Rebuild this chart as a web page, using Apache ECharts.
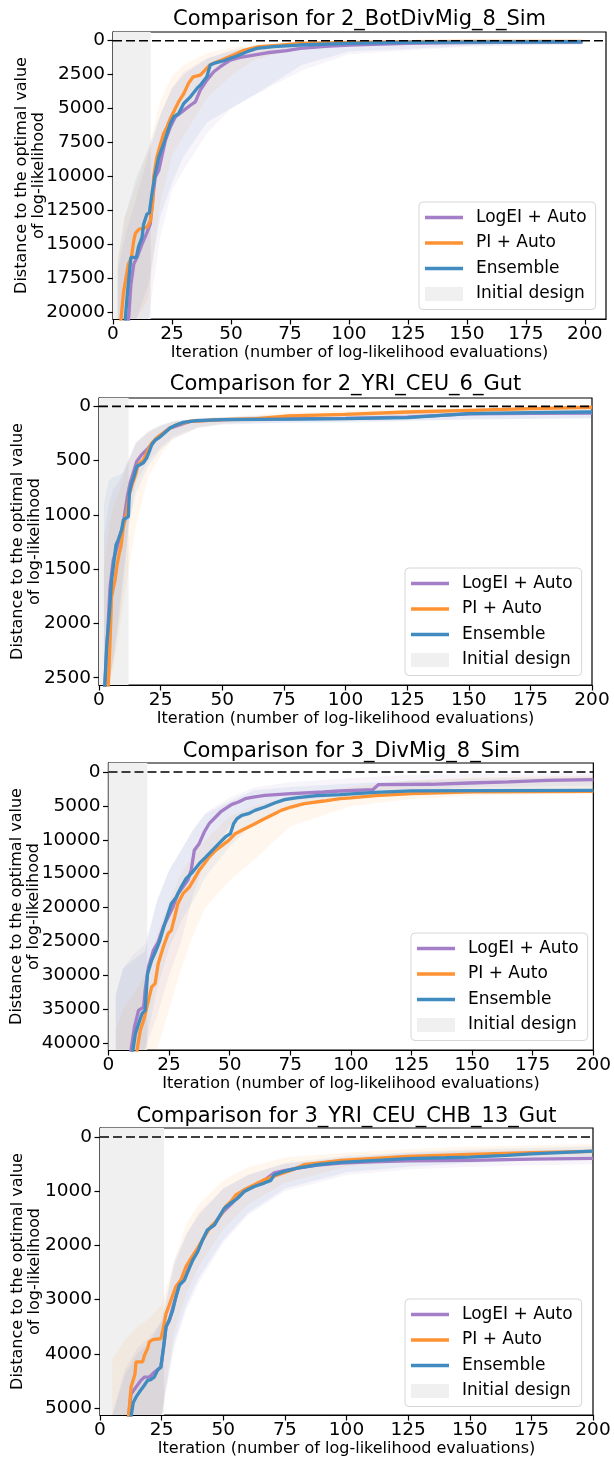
<!DOCTYPE html>
<html>
<head>
<meta charset="utf-8">
<title>Comparison</title>
<script src="https://cdn.jsdelivr.net/npm/echarts@6/dist/echarts.min.js"></script>
<style>
  html, body { margin: 0; padding: 0; background: #fff; }
  #main { width: 614px; height: 1460px; }
</style>
</head>
<body>
<div id="main"></div>
<script>
// ---- data (iteration, distance to optimum) ----
var xTicks = [0, 25, 50, 75, 100, 125, 150, 175, 200];

// panel 1 : 2_BotDivMig_8_Sim
var p1YTicks = [0, 2500, 5000, 7500, 10000, 12500, 15000, 17500, 20000];
var p1LogEI = [[5,24000],[6.6,20500],[7.6,17950],[8.8,16470],[10.2,15970],[12.3,14990],[14.4,14125],[15.8,13510],[16.9,11540],[17.9,10060],[19.4,9560],[20.8,8450],[22.2,7350],[24.3,6360],[26.4,5620],[29.2,5250],[32.8,4760],[34.9,4510],[37,3650],[39.8,2910],[42.7,2290],[45.5,1920],[49.7,1430],[53.9,1230],[59.6,1060],[65.3,890],[73.7,740],[79.4,570],[90,420],[100,320],[125,200],[150,150],[175,110],[199,100]];
var p1PI = [[2,24000],[3.4,20500],[4.5,18500],[6.5,16500],[7.8,15970],[8.8,14740],[9.5,14200],[11,13900],[14.4,13750],[15.8,13300],[16.8,12000],[17.2,10060],[18.6,8580],[20,7700],[21.5,6850],[22.9,6360],[24.3,5740],[25.7,5250],[27.8,4510],[30,3900],[32,3150],[34,2660],[37,2540],[41,1800],[46,1430],[51,1060],[55,740],[62,440],[71,320],[79,200],[100,120],[125,80],[150,60],[199,50]];
var p1Ens = [[4,24000],[5.2,20500],[6.2,18440],[7.6,15970],[9.9,15970],[10.8,15200],[12.3,14500],[13,13510],[14.4,12770],[15.4,12700],[16.5,11290],[17.9,9810],[19.4,8580],[21.5,7590],[22.9,6850],[24.3,6110],[25.7,5620],[27.8,5370],[30,4630],[32.8,4140],[35.6,3520],[37,3280],[39.8,2660],[41.2,1800],[43.4,1630],[47,1480],[49.7,1300],[52.5,1130],[56.8,810],[61,570],[68,440],[79,320],[100,200],[125,130],[150,100],[199,80]];
var p1BandIt = [2, 5, 10, 15, 20, 25, 30, 40, 50, 60, 80, 100, 150, 199];
var p1LogEILo = [17000, 14500, 11500, 8500, 5500, 3500, 2300, 1300, 800, 500, 250, 150, 80, 50];
var p1LogEIHi = [20500, 20500, 20500, 20500, 14500, 11000, 9500, 6800, 5000, 4000, 2200, 1000, 450, 300];
var p1PILo = [16000, 13000, 10500, 8000, 4500, 2600, 1800, 900, 500, 300, 150, 80, 40, 20];
var p1PIHi = [20500, 20500, 20500, 19000, 12000, 8500, 7000, 4200, 2600, 1400, 500, 250, 120, 90];
var p1EnsLo = [16500, 13000, 10000, 8000, 5500, 3500, 2500, 1300, 700, 400, 200, 100, 50, 30];
var p1EnsHi = [20500, 20500, 20500, 18000, 13000, 10500, 8500, 6000, 5000, 4000, 1800, 800, 400, 250];

// panel 2 : 2_YRI_CEU_6_Gut
var p2YTicks = [0, 500, 1000, 1500, 2000, 2500];
var p2LogEI = [[2,2700],[3,2300],[4.5,1660],[5.8,1415],[7.8,1261],[9.9,1077],[11.5,830],[12.6,708],[15.3,508],[17.3,446],[20,385],[23.4,292],[28.8,200],[36.9,138],[50,123],[75,115],[100,110],[125,100],[150,70],[175,65],[200,62]];
var p2PI = [[3,2700],[3.8,2560],[4.5,2154],[5.1,1754],[6.5,1600],[7.2,1477],[8.2,1354],[8.9,1292],[9.9,1108],[11.2,985],[12.3,815],[13.2,738],[14.6,646],[15.9,538],[18,492],[20,400],[21.4,338],[23.4,292],[26,246],[28.8,200],[32.2,163],[36.9,138],[50.4,123],[64,114],[77,88],[100,73],[125,52],[150,37],[175,21],[200,8]];
var p2Ens = [[2,2700],[2.4,2560],[3.1,2215],[4.2,1910],[5.1,1600],[5.8,1477],[6.9,1277],[7.8,1230],[9.2,1138],[9.9,1046],[11.9,1015],[12.3,800],[13.2,708],[14.2,646],[15.3,554],[16.6,538],[18,520],[19.3,477],[20.4,415],[21.4,354],[22.7,314],[24.7,283],[26.8,240],[28.8,200],[31.5,169],[34.2,148],[39.6,132],[50.4,123],[77.4,117],[100,113],[125,104],[150,67],[175,58],[200,52]];
var p2BandIt = [2, 4, 6, 8, 10, 12, 15, 20, 25, 30, 40, 50, 75, 100, 150, 200];
var p2LogEILo = [1200, 900, 750, 700, 600, 480, 330, 240, 180, 140, 115, 100, 80, 60, 40, 30];
var p2LogEIHi = [2560, 2560, 2300, 1900, 1500, 1100, 700, 500, 380, 280, 190, 160, 150, 140, 120, 110];
var p2PILo = [1500, 1100, 900, 800, 650, 500, 350, 230, 180, 140, 110, 100, 60, 40, 15, 0];
var p2PIHi = [2560, 2560, 2400, 2100, 1800, 1500, 1100, 650, 450, 300, 200, 160, 130, 110, 70, 40];
var p2EnsLo = [900, 680, 650, 640, 600, 500, 330, 230, 170, 140, 110, 100, 80, 60, 30, 20];
var p2EnsHi = [2560, 2560, 2300, 2000, 1600, 1100, 800, 550, 400, 300, 200, 170, 150, 150, 120, 110];

// panel 3 : 3_DivMig_8_Sim
var p3YTicks = [0, 5000, 10000, 15000, 20000, 25000, 30000, 35000, 40000];
var p3LogEI = [[8,45000],[9.3,41000],[10.7,37640],[12.4,35180],[14.5,34690],[15.1,32230],[16.5,28780],[18.5,26320],[20.5,25090],[22.6,22880],[24.6,21400],[26.6,19930],[28.6,17960],[30.7,16970],[32.7,15990],[34.1,14510],[35.4,11560],[37.4,10580],[39.5,8860],[41.5,7630],[44.2,6640],[46.2,5900],[48.2,5410],[50.9,4770],[53.6,4430],[56.4,3940],[59.7,3690],[64.5,3440],[75.3,3200],[88.8,2950],[95.5,2800],[109,2600],[111.4,1860],[133,1810],[149,1620],[165,1470],[181,1225],[200,1130]];
var p3PI = [[11,45000],[11.8,41000],[13.1,38130],[14.5,36650],[16.5,33700],[17.8,31730],[19.2,31240],[20.5,28290],[22.6,25830],[24.6,23860],[25.9,23370],[27.3,21400],[28.6,19430],[30.7,17960],[33.4,16970],[35.4,15740],[37.4,14510],[39.5,13530],[41.5,12550],[44.2,11560],[46.9,10820],[49.6,10090],[52.3,9100],[55,8610],[57.7,8120],[60.4,7630],[63.1,7130],[65.8,6640],[68.5,6150],[71.2,5660],[75.3,5170],[80.7,4670],[88.8,4280],[95.5,3940],[100,3820],[110,3500],[125,3190],[150,2940],[200,2840]];
var p3Ens = [[9,45000],[10.1,41000],[11.1,38620],[12.4,37150],[13.8,35670],[15.1,35180],[16.1,29770],[17.8,27800],[19.9,26080],[21.2,24850],[23.2,22390],[25.9,19430],[28,18450],[30,16970],[32,15740],[34.7,14760],[37.4,13530],[40.1,12550],[42.8,11560],[45.5,10580],[48.2,9590],[50.3,9100],[51.6,7630],[53,6890],[55,6400],[57.7,6150],[60.4,5660],[64.5,5170],[68.5,4580],[72.6,4080],[78,3790],[86,3490],[95.5,3350],[110,3000],[125,2790],[150,2740],[200,2700]];
var p3BandIt = [3, 6, 10, 15, 20, 25, 30, 35, 40, 50, 60, 75, 100, 125, 150, 200];
var p3LogEILo = [33000, 29000, 27000, 25500, 19000, 14500, 11500, 8500, 6000, 3800, 2300, 1500, 900, 400, 300, 200];
var p3LogEIHi = [41000, 41000, 41000, 41000, 36000, 30000, 25000, 18000, 13000, 8000, 5500, 4200, 3500, 2800, 2300, 2000];
var p3PILo = [38000, 35000, 33000, 30000, 24000, 19000, 15000, 12000, 10000, 6500, 5000, 3500, 2200, 1200, 800, 500];
var p3PIHi = [41000, 41000, 41000, 41000, 41000, 35000, 29000, 24000, 20000, 16000, 13000, 8000, 5000, 4000, 3500, 3200];
var p3EnsLo = [32700, 29000, 27800, 26500, 19000, 14500, 11500, 8500, 6200, 4300, 2700, 2200, 1700, 1300, 1000, 800];
var p3EnsHi = [41000, 41000, 41000, 41000, 32000, 26000, 22000, 19000, 15500, 11000, 7500, 5200, 3900, 3400, 3200, 3100];

// panel 4 : 3_YRI_CEU_CHB_13_Gut
var p4YTicks = [0, 1000, 2000, 3000, 4000, 5000];
var p4LogEI = [[10,5600],[11.6,5150],[12.6,4740],[14.6,4615],[16.6,4490],[18,4430],[20,4430],[22,4340],[24.7,4245],[25.8,3875],[26.8,3500],[28.1,3380],[29.5,3150],[30.8,2950],[32.2,2730],[34.2,2640],[36.2,2400],[37.6,2270],[39.6,2100],[41.6,1900],[43.6,1715],[46.4,1620],[48.4,1470],[50.4,1360],[53.1,1240],[55.8,1120],[58.5,1000],[62.6,900],[66.6,800],[70.7,660],[74.7,620],[80.1,575],[88.2,520],[97.7,480],[110,460],[125,440],[150,430],[175,410],[200,395]];
var p4PI = [[11,5600],[11.6,5150],[12.6,4615],[14.2,4370],[14.6,4150],[17.3,4150],[18,4030],[19.3,3905],[20,3780],[21.4,3740],[24.7,3720],[25.8,3500],[26.8,3260],[28.1,3100],[29.5,2920],[30.8,2760],[32.8,2640],[34.9,2390],[36.9,2240],[39.6,2050],[42.3,1840],[45,1650],[47,1560],[49,1440],[51,1280],[53.1,1190],[55.1,1070],[58.5,975],[62.6,880],[66.6,790],[72,700],[77.4,617],[82.8,512],[91,470],[97.7,432],[125,358],[150,320],[175,290],[200,265]];
var p4Ens = [[12,5600],[12.6,5150],[13.5,4900],[14.6,4800],[15.9,4710],[18,4580],[19.3,4490],[20.4,4480],[22,4430],[23.4,4300],[24.7,4245],[25.8,3875],[26.8,3500],[28.1,3380],[29.5,3200],[30.8,2950],[32.2,2730],[34.2,2640],[36.2,2425],[37.6,2270],[39.6,2120],[41.6,1900],[43.6,1715],[46.4,1620],[48.4,1470],[50.4,1315],[53.1,1220],[55.8,1130],[58.5,1005],[62.6,913],[66.6,850],[69.3,800],[70.7,700],[74.7,635],[80.1,575],[88.2,512],[97.7,470],[125,400],[140,383],[150,370],[165,340],[175,310],[200,260]];
var p4BandIt = [5, 10, 15, 20, 25, 30, 35, 40, 50, 60, 75, 100, 125, 150, 200];
var p4LogEILo = [5129, 4300, 3900, 3700, 3400, 2400, 1800, 1400, 950, 700, 500, 380, 300, 260, 220];
var p4LogEIHi = [5129, 5129, 5129, 5129, 5129, 3900, 3200, 2700, 1950, 1450, 1000, 700, 600, 550, 500];
var p4PILo = [4100, 3750, 3500, 3350, 3100, 2300, 1600, 1250, 800, 560, 380, 290, 220, 180, 130];
var p4PIHi = [5129, 5129, 5129, 5129, 5129, 3600, 2900, 2400, 1700, 1250, 850, 550, 450, 400, 350];
var p4EnsLo = [5129, 4400, 4000, 3800, 3400, 2300, 1800, 1450, 950, 700, 480, 350, 280, 230, 170];
var p4EnsHi = [5129, 5129, 5129, 5129, 5129, 3800, 3100, 2600, 1900, 1400, 950, 650, 550, 480, 380];

// ---- layout / style ----
var FONT = 'DejaVu Sans';
var names = ['LogEI + Auto', 'PI + Auto', 'Ensemble'];
var colors = ['#a47ec7', '#ff9232', '#408bbf'];
var bandColors = ['rgba(148,103,189,0.075)', 'rgba(255,127,14,0.07)', 'rgba(31,119,180,0.07)'];
var lineIcon = 'path://M0,0H38V3.4H0Z';

var panels = [
    { title: 'Comparison for 2_BotDivMig_8_Sim', left: 113, top: 32, yMin: -640, yMax: 20516, yTicks: p1YTicks, xMax: 209, initEnd: 16,
      lines: [p1LogEI, p1PI, p1Ens], bandIt: p1BandIt, bands: [[p1LogEILo, p1LogEIHi], [p1PILo, p1PIHi], [p1EnsLo, p1EnsHi]],
      titleY: 20, legendLeft: 419, legendTop: 202, yNameGap: 65 },
    { title: 'Comparison for 2_YRI_CEU_6_Gut', left: 99, top: 398, yMin: -77, yMax: 2567, yTicks: p2YTicks, xMax: 200, initEnd: 12,
      lines: [p2LogEI, p2PI, p2Ens], bandIt: p2BandIt, bands: [[p2LogEILo, p2LogEIHi], [p2PILo, p2PIHi], [p2EnsLo, p2EnsHi]],
      titleY: 385, legendLeft: 405, legendTop: 568, yNameGap: 55 },
    { title: 'Comparison for 3_DivMig_8_Sim', left: 105, top: 763, yMin: -1330, yMax: 41030, yTicks: p3YTicks, xMax: 200, initEnd: 16,
      lines: [p3LogEI, p3PI, p3Ens], bandIt: p3BandIt, bands: [[p3LogEILo, p3LogEIHi], [p3PILo, p3PIHi], [p3EnsLo, p3EnsHi]],
      titleY: 752, legendLeft: 411, legendTop: 933, yNameGap: 65.5 },
    { title: 'Comparison for 3_YRI_CEU_CHB_13_Gut', left: 100, top: 1128, yMin: -166, yMax: 5129, yTicks: p4YTicks, xMax: 200, initEnd: 26,
      lines: [p4LogEI, p4PI, p4Ens], bandIt: p4BandIt, bands: [[p4LogEILo, p4LogEIHi], [p4PILo, p4PIHi], [p4EnsLo, p4EnsHi]],
      titleY: 1117, legendLeft: 405, legendTop: 1299, yNameGap: 56 }
];
var PW = 493, PH = 287;

// shaded band between lo and hi, drawn through the axes
function bandRender(its, lo, hi, color) {
    return function (params, api) {
        var pts = [];
        for (var i = 0; i < its.length; i++) pts.push(api.coord([its[i], lo[i]]));
        for (var j = its.length - 1; j >= 0; j--) pts.push(api.coord([its[j], hi[j]]));
        return {
            type: 'polygon',
            shape: { points: echarts.graphic.clipPointsByRect(pts, params.coordSys) },
            style: { fill: color }
        };
    };
}

// grey block for the initial design
function initRender(end, yMin, yMax) {
    return function (params, api) {
        var a = api.coord([0, yMin]);
        var b = api.coord([end, yMax]);
        return {
            type: 'rect',
            shape: { x: a[0], y: Math.min(a[1], b[1]), width: b[0] - a[0], height: Math.abs(b[1] - a[1]) },
            style: { fill: '#f0f0f0' }
        };
    };
}

function plain(v) { return String(v); }

var option = {
    animation: false,
    backgroundColor: '#fff',
    textStyle: { fontFamily: FONT },
    grid: [], xAxis: [], yAxis: [], series: [], legend: [], graphic: []
};

panels.forEach(function (p, k) {
    option.grid.push({
        left: p.left, top: p.top, width: PW, height: PH,
        show: true, borderColor: '#000', borderWidth: 1.2, backgroundColor: 'transparent'
    });
    option.xAxis.push({
        gridIndex: k, type: 'value', min: 0, max: p.xMax,
        name: 'Iteration (number of log-likelihood evaluations)',
        nameLocation: 'middle', nameGap: 26, nameMoveOverlap: false,
        nameTextStyle: { fontSize: 16, color: '#000', fontFamily: FONT },
        axisLine: { show: true, onZero: false, lineStyle: { color: '#000', width: 1.2 } },
        axisTick: { show: true, length: 5.5, customValues: xTicks, lineStyle: { color: '#000', width: 1.2 } },
        axisLabel: { customValues: xTicks, formatter: plain, fontSize: 18.5, color: '#000', fontFamily: FONT, margin: 6 },
        splitLine: { show: false }
    });
    option.yAxis.push({
        gridIndex: k, type: 'value', inverse: true, min: p.yMin, max: p.yMax,
        name: 'Distance to the optimal value\nof log-likelihood',
        nameLocation: 'middle', nameRotate: 90, nameGap: p.yNameGap, nameMoveOverlap: false,
        nameTextStyle: { fontSize: 16, lineHeight: 17.5, color: '#000', fontFamily: FONT, align: 'center' },
        axisLine: { show: true, onZero: false, lineStyle: { color: '#000', width: 1.2 } },
        axisTick: { show: true, length: 5.5, customValues: p.yTicks, lineStyle: { color: '#000', width: 1.2 } },
        axisLabel: { customValues: p.yTicks, formatter: plain, fontSize: 18.5, color: '#000', fontFamily: FONT, margin: 8 },
        splitLine: { show: false }
    });

    option.series.push({
        name: 'Initial design', type: 'custom', xAxisIndex: k, yAxisIndex: k,
        data: [[0, 0]], z: 1, silent: true,
        itemStyle: { color: '#f0f0f0' },
        renderItem: initRender(p.initEnd, p.yMin, p.yMax)
    });
    for (var s = 0; s < 3; s++) {
        option.series.push({
            name: 'band', type: 'custom', xAxisIndex: k, yAxisIndex: k,
            data: [[0, 0]], z: 2, silent: true,
            renderItem: bandRender(p.bandIt, p.bands[s][0], p.bands[s][1], bandColors[s])
        });
    }
    for (var m = 0; m < 3; m++) {
        option.series.push({
            name: names[m], type: 'line', xAxisIndex: k, yAxisIndex: k,
            data: p.lines[m], symbol: 'none', showSymbol: false, z: 3 + m,
            lineStyle: { color: colors[m], width: 3.3 },
            itemStyle: { color: colors[m] }
        });
    }
    // dashed reference line at the optimum
    option.series.push({
        name: 'optimum', type: 'line', xAxisIndex: k, yAxisIndex: k,
        data: [[0, 0], [p.xMax, 0]], symbol: 'none', z: 8, silent: true,
        lineStyle: { color: '#000', width: 1.6, type: [9, 4] }
    });

    option.legend.push({
        orient: 'vertical', left: p.legendLeft, top: p.legendTop,
        itemWidth: 38, itemHeight: 14, itemGap: 8.5,
        padding: [7, 9, 7, 6],
        borderColor: '#d6d6d6', borderWidth: 1, borderRadius: 4,
        backgroundColor: 'rgba(255,255,255,0.8)',
        selectedMode: false,
        textStyle: { fontSize: 17, color: '#000', fontFamily: FONT, padding: [0, 0, 0, 8] },
        data: [
            { name: 'LogEI + Auto', icon: lineIcon, itemStyle: { color: colors[0] } },
            { name: 'PI + Auto', icon: lineIcon, itemStyle: { color: colors[1] } },
            { name: 'Ensemble', icon: lineIcon, itemStyle: { color: colors[2] } },
            { name: 'Initial design', icon: 'rect', itemStyle: { color: '#f0f0f0' } }
        ]
    });

    option.graphic.push({
        type: 'text', x: p.left + PW / 2, y: p.titleY, silent: true,
        style: { text: p.title, fill: '#000', fontSize: 21, fontFamily: FONT, align: 'center', verticalAlign: 'middle' }
    });
});

var myChart = echarts.init(document.getElementById('main'), null, { renderer: 'canvas' });
myChart.setOption(option);
</script>
</body>
</html>
